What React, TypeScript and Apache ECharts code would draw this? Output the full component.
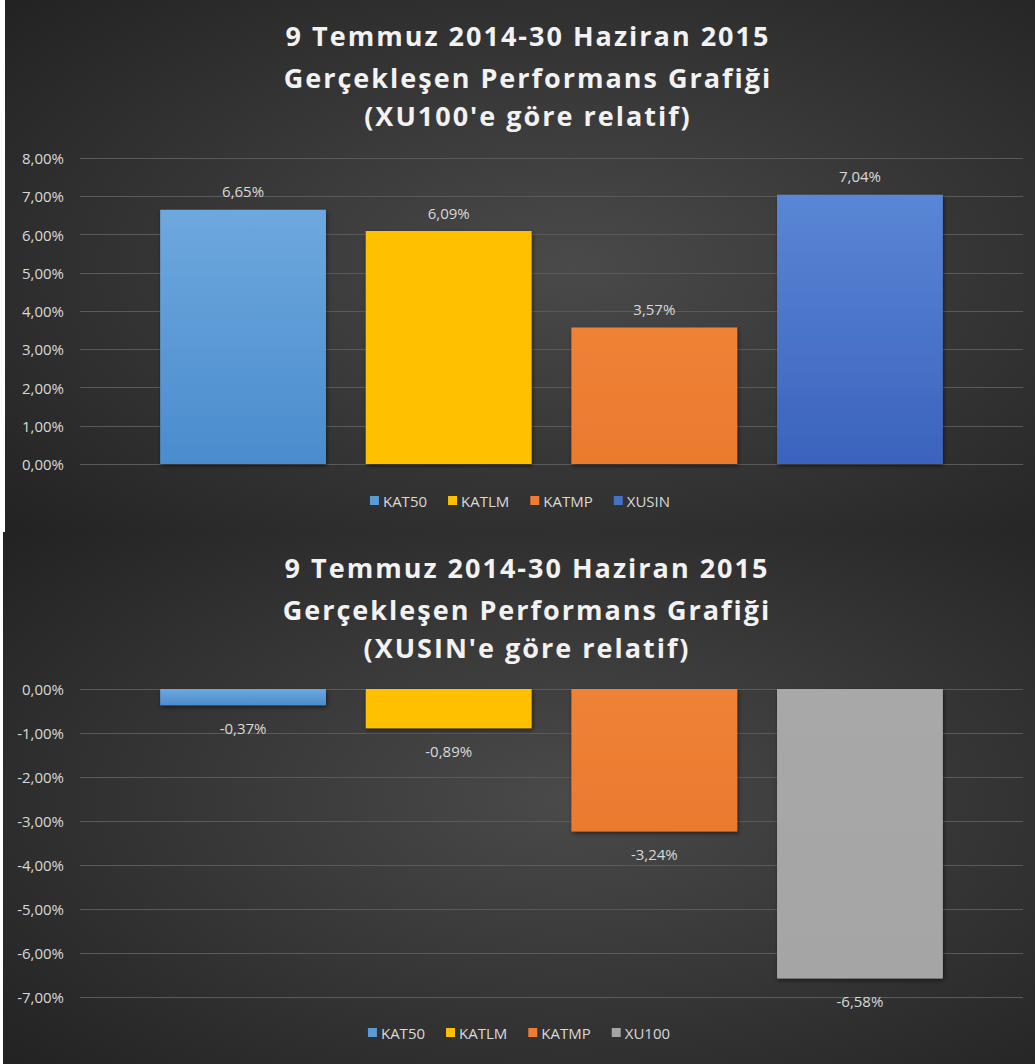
import React, { useEffect, useRef } from "react";
import * as echarts from "echarts";

const topTitleLines = ["9 Temmuz 2014-30 Haziran 2015", "Gerçekleşen Performans Grafiği", "(XU100'e göre relatif)"];
const bottomTitleLines = ["9 Temmuz 2014-30 Haziran 2015", "Gerçekleşen Performans Grafiği", "(XUSIN'e göre relatif)"];

const topSeriesNames = ["KAT50", "KATLM", "KATMP", "XUSIN"];
const topValues = [6.65, 6.09, 3.57, 7.04];
const bottomSeriesNames = ["KAT50", "KATLM", "KATMP", "XU100"];
const bottomValues = [-0.37, -0.89, -3.24, -6.58];

const colorMap: Record<string, [string, string]> = {
  KAT50: ["#6ea8de", "#4a8ccd"],
  KATLM: ["#ffc000", "#ffc000"],
  KATMP: ["#ef8236", "#ea7a2e"],
  XUSIN: ["#5a86d6", "#3b63bd"],
  XU100: ["#a8a8a8", "#a5a5a5"],
};
const legendColor: Record<string, string> = {
  KAT50: "#5b9bd5",
  KATLM: "#ffc000",
  KATMP: "#ed7d31",
  XUSIN: "#4472c4",
  XU100: "#a5a5a5",
};

const fmt = (v: number) => v.toFixed(2).replace(".", ",") + "%";
const FONT = "'Open Sans', Lato, sans-serif";
const TITLE_FONT_SIZE = 27;

function buildOption(
  titleLines: string[],
  names: string[],
  values: number[],
  min: number,
  max: number,
  negative: boolean,
  width: number
) {
  const lineY = [35, 77, 115];
  return {
    animation: false,
    backgroundColor: {
      type: "radial",
      x: 0.55,
      y: 0.5,
      r: 0.75,
      colorStops: [
        { offset: 0, color: "#4a4a4a" },
        { offset: 1, color: "#222222" },
      ],
    },
    graphic: titleLines.map((t, i) => ({
      type: "text",
      x: width / 2 + 8,
      y: lineY[i],
      silent: true,
      style: {
        text: t,
        fill: "#f2f2f2",
        font: `bold ${TITLE_FONT_SIZE}px ${FONT}`,
        textAlign: "center",
        textVerticalAlign: "middle",
        shadowColor: "rgba(0,0,0,0.6)",
        shadowBlur: 3,
        shadowOffsetX: 1,
        shadowOffsetY: 2,
      },
    })),
    legend: {
      bottom: 19,
      left: "center",
      itemWidth: 9,
      itemHeight: 9,
      itemGap: 21,
      icon: "rect",
      textStyle: { color: "#d9d9d9", fontFamily: FONT, fontSize: 15, padding: [0, 0, 0, -1] },
      data: names.map((n) => ({ name: n, itemStyle: { color: legendColor[n] } })),
    },
    grid: negative
      ? { left: 77, right: 12, top: 157, bottom: 67, containLabel: false }
      : { left: 75, right: 12, top: 158, bottom: 68, containLabel: false },
    xAxis: {
      type: "category",
      data: [""],
      axisLine: { show: false },
      axisTick: { show: false },
      axisLabel: { show: false },
    },
    yAxis: {
      type: "value",
      min,
      max,
      interval: 1,
      axisLine: { show: false },
      axisTick: { show: false },
      axisLabel: {
        color: "#d9d9d9",
        fontFamily: FONT,
        fontSize: 15,
        margin: 16,
        formatter: (v: number) => fmt(v),
      },
      splitLine: { lineStyle: { color: "#5a5a5a", width: 1 } },
    },
    series: names.map((n, i) => ({
      name: n,
      type: "bar",
      barGap: "24%",
      barCategoryGap: "17%",
      data: [values[i]],
      itemStyle: {
        color: {
          type: "linear",
          x: 0,
          y: 0,
          x2: 0,
          y2: 1,
          colorStops: [
            { offset: 0, color: colorMap[n][0] },
            { offset: 1, color: colorMap[n][1] },
          ],
        },
        shadowColor: "rgba(0,0,0,0.5)",
        shadowBlur: 4,
        shadowOffsetX: 1,
        shadowOffsetY: 2,
      },
      label: {
        show: true,
        position: negative ? "bottom" : "top",
        distance: negative ? 15 : 11,
        color: "#d9d9d9",
        fontFamily: FONT,
        fontSize: 15,
        formatter: (p: any) => fmt(p.value),
      },
    })),
  };
}

function Chart({ option, style }: { option: any; style: React.CSSProperties }) {
  const ref = useRef<HTMLDivElement>(null);
  useEffect(() => {
    if (!ref.current) return;
    const chart = echarts.init(ref.current, undefined, { renderer: "svg" });
    chart.setOption(option);
    return () => chart.dispose();
  }, [option]);
  return <div ref={ref} className="chart-box" style={{ position: "absolute", ...style }} />;
}

const topOption = buildOption(topTitleLines, topSeriesNames, topValues, 0, 8, false, 1030);
const bottomOption = buildOption(bottomTitleLines, bottomSeriesNames, bottomValues, -7, 0, true, 1032);

const css = `.chart-box svg text[style*="${TITLE_FONT_SIZE}px"]{letter-spacing:2px;}`;

export default function App() {
  return (
    <div
      style={{
        position: "absolute",
        left: 0,
        top: 0,
        width: 1035,
        height: 1064,
        background: "#ffffff",
        overflow: "hidden",
      }}
    >
      <style>{css}</style>
      <Chart option={topOption} style={{ left: 5, top: 0, width: 1030, height: 532 }} />
      <Chart option={bottomOption} style={{ left: 3, top: 532, width: 1032, height: 532 }} />
    </div>
  );
}
